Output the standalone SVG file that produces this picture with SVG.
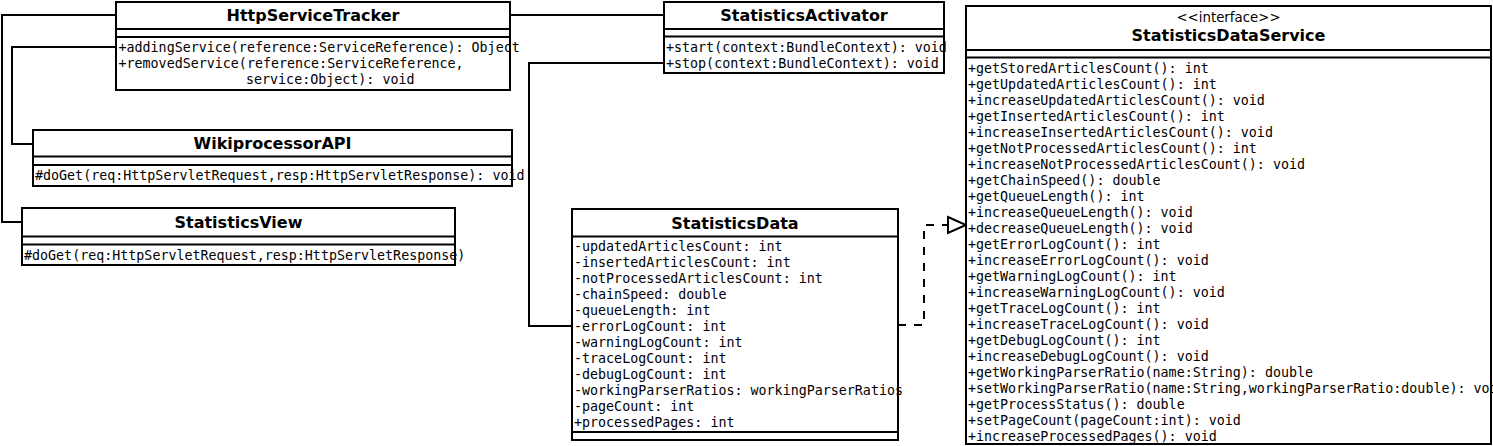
<svg xmlns="http://www.w3.org/2000/svg" width="1493" height="446" viewBox="0 0 1493 446">
<style>
.box{fill:#fff;stroke:#000;stroke-width:2}
.div{stroke:#000;stroke-width:2}
.title{font-family:"DejaVu Sans",sans-serif;font-weight:bold;font-size:16px;text-anchor:middle;fill:#000}
.ster{font-family:"DejaVu Sans",sans-serif;font-size:13.33px;text-anchor:middle;fill:#000}
.m{font-family:"DejaVu Sans Mono",monospace;font-size:13.33px;fill:#000}
.conn{fill:none;stroke:#000;stroke-width:2}
.dash{fill:none;stroke:#000;stroke-width:2;stroke-dasharray:8 8}
</style>
<rect width="1493" height="446" fill="#fff"/>
<g id="connectors">
<path class="conn" d="M510,15 H664"/>
<path class="conn" d="M116,15 H2 V222 H22"/>
<path class="conn" d="M116,47 H12 V144 H33"/>
<path class="conn" d="M664,63 H529 V326 H572"/>
<path class="dash" d="M898,325 H924 V225 H948"/>
<polygon points="948,217 966,225 948,233" fill="#fff" stroke="#000" stroke-width="2"/>
</g>
<g id="HttpServiceTracker">
<rect class="box" x="116" y="2" width="394" height="88"/>
<line class="div" x1="116" y1="29" x2="510" y2="29"/>
<line class="div" x1="116" y1="37" x2="510" y2="37"/>
<text class="title" x="313" y="20.5">HttpServiceTracker</text>
<text class="m" x="118.5" y="52">+addingService(reference:ServiceReference): Object</text>
<text class="m" x="118.5" y="68">+removedService(reference:ServiceReference,</text>
<text class="m" x="246" y="84">service:Object): void</text>
</g>
<g id="StatisticsActivator">
<rect class="box" x="664" y="2" width="280" height="71"/>
<line class="div" x1="664" y1="29" x2="944" y2="29"/>
<line class="div" x1="664" y1="36.5" x2="944" y2="36.5"/>
<text class="title" x="804" y="20.5">StatisticsActivator</text>
<text class="m" x="666" y="51.5">+start(context:BundleContext): void</text>
<text class="m" x="666" y="67.5">+stop(context:BundleContext): void</text>
</g>
<g id="WikiprocessorAPI">
<rect class="box" x="33" y="130" width="479" height="56"/>
<line class="div" x1="33" y1="156.5" x2="512" y2="156.5"/>
<line class="div" x1="33" y1="165" x2="512" y2="165"/>
<text class="title" x="272.5" y="149">WikiprocessorAPI</text>
<text class="m" x="35" y="180">#doGet(req:HttpServletRequest,resp:HttpServletResponse): void</text>
</g>
<g id="StatisticsView">
<rect class="box" x="22" y="208" width="433" height="57"/>
<line class="div" x1="22" y1="236.5" x2="455" y2="236.5"/>
<line class="div" x1="22" y1="244.5" x2="455" y2="244.5"/>
<text class="title" x="238.5" y="228">StatisticsView</text>
<text class="m" x="24" y="260">#doGet(req:HttpServletRequest,resp:HttpServletResponse)</text>
</g>
<g id="StatisticsData">
<rect class="box" x="572" y="209" width="326" height="231"/>
<line class="div" x1="572" y1="236.5" x2="898" y2="236.5"/>
<line class="div" x1="572" y1="432" x2="898" y2="432"/>
<text class="title" x="735" y="228.5">StatisticsData</text>
<text class="m" x="574" y="251">-updatedArticlesCount: int</text>
<text class="m" x="574" y="267">-insertedArticlesCount: int</text>
<text class="m" x="574" y="283">-notProcessedArticlesCount: int</text>
<text class="m" x="574" y="299">-chainSpeed: double</text>
<text class="m" x="574" y="315">-queueLength: int</text>
<text class="m" x="574" y="331">-errorLogCount: int</text>
<text class="m" x="574" y="347">-warningLogCount: int</text>
<text class="m" x="574" y="363">-traceLogCount: int</text>
<text class="m" x="574" y="379">-debugLogCount: int</text>
<text class="m" x="574" y="395">-workingParserRatios: workingParserRatios</text>
<text class="m" x="574" y="411">-pageCount: int</text>
<text class="m" x="574" y="427">+processedPages: int</text>
</g>
<g id="StatisticsDataService">
<rect class="box" x="966" y="6" width="525" height="438"/>
<line class="div" x1="966" y1="50" x2="1491" y2="50"/>
<line class="div" x1="966" y1="57.5" x2="1491" y2="57.5"/>
<text class="ster" x="1228.5" y="21.5">&lt;&lt;interface&gt;&gt;</text>
<text class="title" x="1228.5" y="41">StatisticsDataService</text>
<text class="m" x="968" y="73">+getStoredArticlesCount(): int</text>
<text class="m" x="968" y="89">+getUpdatedArticlesCount(): int</text>
<text class="m" x="968" y="105">+increaseUpdatedArticlesCount(): void</text>
<text class="m" x="968" y="121">+getInsertedArticlesCount(): int</text>
<text class="m" x="968" y="137">+increaseInsertedArticlesCount(): void</text>
<text class="m" x="968" y="153">+getNotProcessedArticlesCount(): int</text>
<text class="m" x="968" y="169">+increaseNotProcessedArticlesCount(): void</text>
<text class="m" x="968" y="185">+getChainSpeed(): double</text>
<text class="m" x="968" y="201">+getQueueLength(): int</text>
<text class="m" x="968" y="217">+increaseQueueLength(): void</text>
<text class="m" x="968" y="233">+decreaseQueueLength(): void</text>
<text class="m" x="968" y="249">+getErrorLogCount(): int</text>
<text class="m" x="968" y="265">+increaseErrorLogCount(): void</text>
<text class="m" x="968" y="281">+getWarningLogCount(): int</text>
<text class="m" x="968" y="297">+increaseWarningLogCount(): void</text>
<text class="m" x="968" y="313">+getTraceLogCount(): int</text>
<text class="m" x="968" y="329">+increaseTraceLogCount(): void</text>
<text class="m" x="968" y="345">+getDebugLogCount(): int</text>
<text class="m" x="968" y="361">+increaseDebugLogCount(): void</text>
<text class="m" x="968" y="377">+getWorkingParserRatio(name:String): double</text>
<text class="m" x="968" y="393">+setWorkingParserRatio(name:String,workingParserRatio:double): void</text>
<text class="m" x="968" y="409">+getProcessStatus(): double</text>
<text class="m" x="968" y="425">+setPageCount(pageCount:int): void</text>
<text class="m" x="968" y="441">+increaseProcessedPages(): void</text>
</g>
</svg>
